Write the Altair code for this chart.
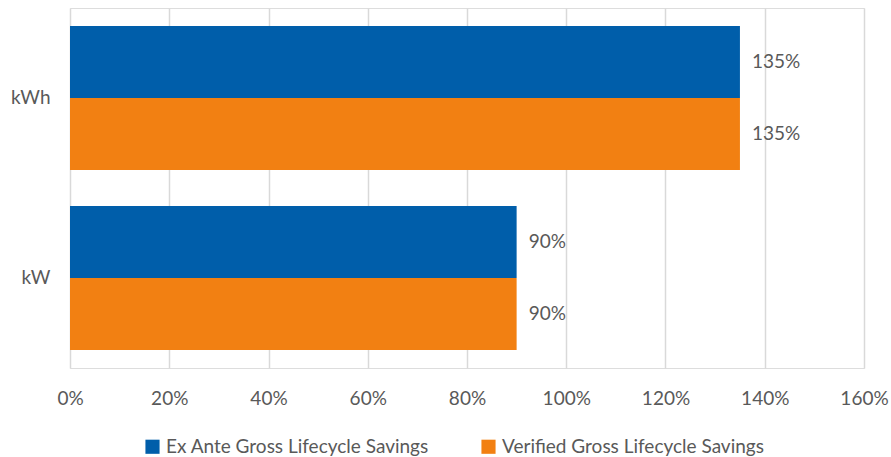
import altair as alt
import pandas as pd

categories = ["kWh", "kW"]
series_names = ["Ex Ante Gross Lifecycle Savings", "Verified Gross Lifecycle Savings"]
ex_ante = [1.35, 0.90]
verified = [1.35, 0.90]
colors = ["#005EAA", "#F28012"]

rows = []
for i, c in enumerate(categories):
    rows.append({"Category": c, "Series": series_names[0], "Value": ex_ante[i]})
    rows.append({"Category": c, "Series": series_names[1], "Value": verified[i]})
df = pd.DataFrame(rows)

FONT = "Lato"
FS = 19
TXT = "#595959"

y_enc = alt.Y("Category:N", sort=categories,
              scale=alt.Scale(paddingInner=0.2, paddingOuter=0.1),
              axis=alt.Axis(title=None, domain=False, ticks=False, labelPadding=20,
                            labelFontSize=FS, labelColor=TXT, labelFont=FONT))
yoff = alt.YOffset("Series:N", sort=series_names,
                   scale=alt.Scale(paddingInner=0, paddingOuter=0))
x_enc = alt.X("Value:Q",
              scale=alt.Scale(domain=[0, 1.6], nice=False),
              axis=alt.Axis(title=None, format=".0%", values=[0, 0.2, 0.4, 0.6, 0.8, 1.0, 1.2, 1.4, 1.6],
                            grid=True, gridColor="#d9d9d9", gridWidth=1.5, domain=False, ticks=False,
                            labelFlush=False, labelOverlap=False,
                            labelPadding=21, labelFontSize=FS, labelColor=TXT, labelFont=FONT))

bars = alt.Chart(df).mark_bar(size=72).encode(
    y=y_enc, yOffset=yoff, x=x_enc,
    color=alt.Color("Series:N", sort=series_names,
                    scale=alt.Scale(domain=series_names, range=colors),
                    legend=alt.Legend(title=None, orient="none", direction="horizontal",
                                      legendX=73, legendY=429, symbolType="square",
                                      symbolSize=200, symbolStrokeWidth=0, labelFontSize=FS,
                                      labelColor=TXT, labelFont=FONT, columnPadding=50,
                                      labelOffset=4, symbolOpacity=1, labelLimit=400))
)

labels = alt.Chart(df).mark_text(align="left", baseline="middle", dx=12,
                                 fontSize=FS, color=TXT, font=FONT).encode(
    y=alt.Y("Category:N", sort=categories), yOffset=alt.YOffset("Series:N", sort=series_names),
    x=alt.X("Value:Q"),
    text=alt.Text("Value:Q", format=".0%")
)

chart = alt.layer(bars, labels).properties(
    width=794, height=360,
    autosize=alt.AutoSizeParams(type="none"),
    padding={"left": 70, "top": 8, "right": 27, "bottom": 89},
).configure_view(stroke=None).configure(background="white")

chart.save("out.html", embed_options={"renderer": "svg", "actions": False})
